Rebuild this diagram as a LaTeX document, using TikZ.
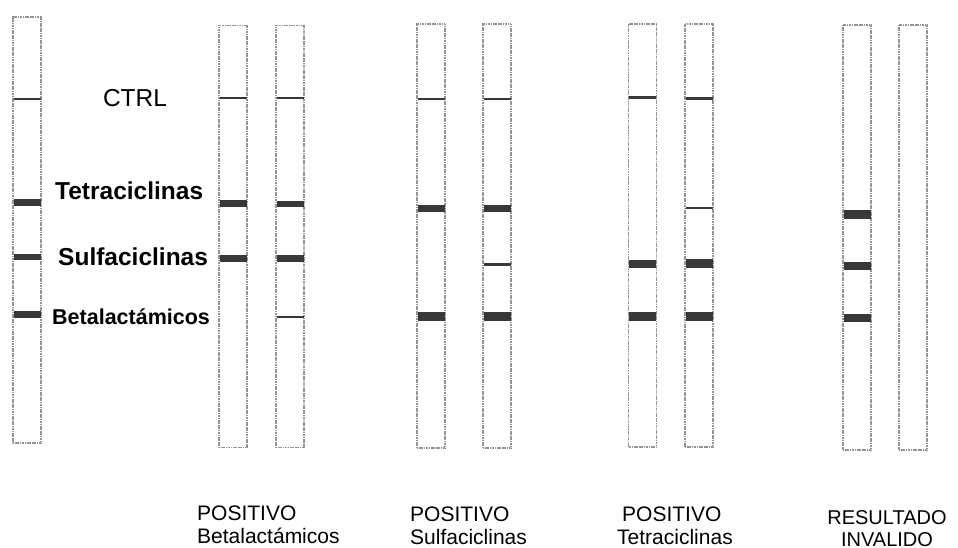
\documentclass[tikz,border=0pt]{standalone}
\usepackage{fontspec}
\setmainfont{Liberation Sans}
\tikzset{
strip/.style = {rectangle, draw=black!42, line width=1.5pt,
                dash pattern=on 1.2pt off 0.5pt,
                minimum width=28pt, minimum height=#1, inner sep=0pt},
strip/.default = 422pt % length of a test strip
}
\tikzset{
band/.style = {rectangle, fill=black!78, minimum width=27pt,
               minimum height=#1, inner sep=0pt},
band/.default = 7.5pt, % height of a coloured band
thinband/.style = {band=2.5pt}
}
\tikzset{
txt/.style = {inner sep=0pt, anchor=base west, font=\fontsize{21}{24}\selectfont},
big/.style = {inner sep=0pt, anchor=base west, font=\fontsize{24.5}{28}\selectfont\bfseries}
}

\begin{document}
\begin{tikzpicture}[x=1pt, y=-1pt]
  \useasboundingbox (0,0) rectangle (958,548);

  % Strips
    \node[strip=426pt] (ref) at (27,230) {};
    \node[strip] (betaA) at (233,236.5) {};
    \node[strip] (betaB) at (290,236.5) {};
    \node[strip=424pt] (sulfaA) at (431,236) {};
    \node[strip=424pt] (sulfaB) at (497,236) {};
    \node[strip=423pt] (tetraA) at (642.5,235.5) {};
    \node[strip=423pt] (tetraB) at (699,235.5) {};
    \node[strip=425pt] (invA) at (857,237.5) {};
    \node[strip=425pt] (invB) at (913,237.5) {};

  % Bands
    \node[thinband] (refCtrl) at (27,99) {};
    \node[band=6.5pt] (refTetra) at (27,202.5) {};
    \node[band=6.5pt] (refSulfa) at (27,257) {};
    \node[band=6.5pt] (refBeta) at (27,314.5) {};

    \node[thinband] (betaACtrl) at (233,98) {};
    \node[band=6.5pt] (betaATetra) at (233,203.5) {};
    \node[band=6.5pt] (betaASulfa) at (233,258.5) {};

    \node[thinband] (betaBCtrl) at (290,98) {};
    \node[band=6.5pt] (betaBTetra) at (290,204) {};
    \node[band=6.5pt] (betaBSulfa) at (290,258.5) {};
    \node[thinband] (betaBBeta) at (290,317) {};

    \node[thinband] (sulfaACtrl) at (431,99) {};
    \node[band] (sulfaATetra) at (431,208.5) {};
    \node[band=8.5pt] (sulfaABeta) at (431,316.5) {};

    \node[thinband] (sulfaBCtrl) at (497,99) {};
    \node[band] (sulfaBTetra) at (497,208.5) {};
    \node[thinband] (sulfaBSulfa) at (497,264.5) {};
    \node[band=8.5pt] (sulfaBBeta) at (497,316.5) {};

    \node[thinband] (tetraACtrl) at (642.5,97.5) {};
    \node[band=8.5pt] (tetraASulfa) at (642.5,264) {};
    \node[band=8.5pt] (tetraABeta) at (642.5,316.5) {};

    \node[thinband] (tetraBCtrl) at (699,98.5) {};
    \node[thinband] (tetraBTetra) at (699,208) {};
    \node[band=8.5pt] (tetraBSulfa) at (699,263.5) {};
    \node[band=8.5pt] (tetraBBeta) at (699,316.5) {};

    \node[band=8pt] (invATetra) at (857,214.5) {};
    \node[band=8pt] (invASulfa) at (857,266) {};
    \node[band=8pt] (invABeta) at (857,318) {};

  % Band names
    \node[txt, font=\fontsize{24.5}{28}\selectfont, anchor=base] (ctrlName) at (135,107) {CTRL};
    \node[big] (tetraName) at (55,200) {Tetraciclinas};
    \node[big] (sulfaName) at (58,265) {Sulfaciclinas};
    \node[big, font=\fontsize{21.5}{24}\selectfont\bfseries] (betaName) at (52,324) {Betalactámicos};

  % Results
    \node[txt] (betaRes) at (197,520) {POSITIVO};
    \node[txt] (betaResSub) at (197,543.5) {Betalactámicos};
    \node[txt] (sulfaRes) at (410,521) {POSITIVO};
    \node[txt] (sulfaResSub) at (410,544) {Sulfaciclinas};
    \node[txt] (tetraRes) at (622,521) {POSITIVO};
    \node[txt] (tetraResSub) at (617,544) {Tetraciclinas};
    \node[txt, font=\fontsize{20}{24}\selectfont, anchor=base] (invRes) at (887,524) {RESULTADO};
    \node[txt, font=\fontsize{20}{24}\selectfont, anchor=base] (invResSub) at (887,546) {INVALIDO};
  \end{tikzpicture}
\end{document}
